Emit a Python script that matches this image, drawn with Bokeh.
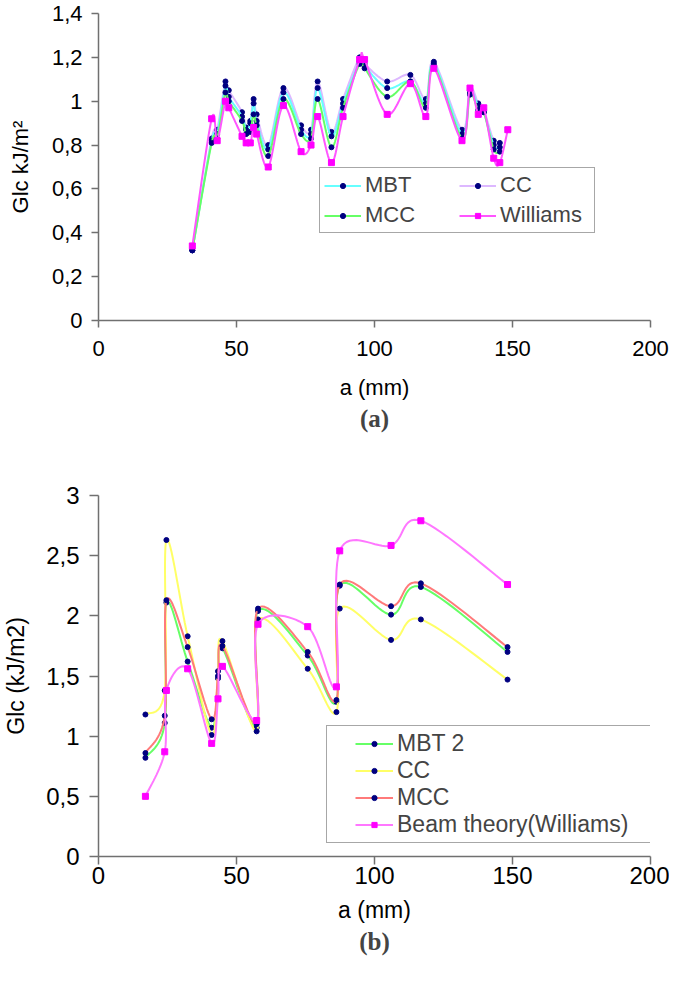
import numpy as np
from bokeh.plotting import figure
from bokeh.models import Range1d, FixedTicker, Legend, LegendItem, Title
from bokeh.layouts import column
from bokeh.embed import file_html
from bokeh.resources import INLINE

# ---------------- data: chart (a) ----------------
a_top = [34, 41, 43, 46, 47.2, 52, 53.5, 55, 56.2, 57.3, 61.5, 67, 73.4, 77, 79.4,
         84.4, 88.6, 94.6, 96.4, 104.6, 113, 118.6, 121.5, 131.7, 134.6, 137.6,
         139.6, 143.2, 145.4]
cc_top = [0.32, 0.83, 0.87, 1.09, 1.05, 0.95, 0.88, 0.91, 1.01, 0.94, 0.80, 1.06, 0.89,
          0.87, 1.09, 0.86, 1.01, 1.20, 1.17, 1.09, 1.12, 1.01, 1.18, 0.87, 1.06, 0.99,
          0.96, 0.82, 0.81]
mbt_top = [0.32, 0.82, 0.85, 1.07, 1.02, 0.93, 0.87, 0.90, 0.99, 0.91, 0.78, 1.04, 0.87,
           0.85, 1.06, 0.84, 0.99, 1.18, 1.16, 1.06, 1.09, 0.99, 1.17, 0.85, 1.04, 0.98,
           0.95, 0.80, 0.79]
mcc_top = [0.32, 0.81, 0.83, 1.04, 1.00, 0.91, 0.85, 0.86, 0.94, 0.89, 0.75, 1.01, 0.85,
           0.83, 1.01, 0.79, 0.97, 1.17, 1.15, 1.02, 1.09, 0.97, 1.16, 0.83, 1.03, 0.96,
           0.95, 0.78, 0.77]
a_top_williams = [34, 41, 43, 46, 47.2, 52, 53.5, 55, 56.2, 57.3, 61.5, 67, 73.4, 77,
                  79.4, 84.4, 88.6, 94.6, 96.4, 104.6, 113, 118.6, 121.5, 131.7, 134.6,
                  137.6, 139.6, 143.2, 145.4, 148.3]
williams_top = [0.34, 0.92, 0.82, 1.00, 0.97, 0.84, 0.81, 0.81, 0.88, 0.85, 0.70, 0.98,
                0.77, 0.80, 0.93, 0.72, 0.93, 1.19, 1.19, 0.94, 1.08, 0.93, 1.15, 0.82,
                1.06, 0.94, 0.97, 0.74, 0.72, 0.87]
x_ticks_top = [0, 50, 100, 150, 200]
y_ticks_top = [0, 0.2, 0.4, 0.6, 0.8, 1, 1.2, 1.4]
y_labels_top = ["0", "0,2", "0,4", "0,6", "0,8", "1", "1,2", "1,4"]

# ---------------- data: chart (b) ----------------
a_bot = [17, 24, 24.6, 32.3, 41, 43.3, 44.9, 57.3, 57.8, 75.8, 86.2, 87.4, 106, 116.8, 148.2]
mbt2_bot = [0.82, 1.11, 2.11, 1.62, 1.07, 1.48, 1.73, 1.07, 2.04, 1.67, 1.285, 2.25, 2.01, 2.24, 1.70]
cc_bot = [1.18, 1.38, 2.63, 1.83, 1.01, 1.54, 1.79, 1.04, 1.97, 1.56, 1.20, 2.06, 1.80, 1.97, 1.47]
mcc_bot = [0.86, 1.17, 2.13, 1.74, 1.14, 1.50, 1.75, 1.10, 2.06, 1.70, 1.30, 2.26, 2.08, 2.27, 1.74]
williams_bot = [0.50, 0.87, 1.38, 1.56, 0.94, 1.31, 1.58, 1.13, 1.93, 1.91, 1.41, 2.54, 2.585, 2.79, 2.26]
x_ticks_bot = [0, 50, 100, 150, 200]
y_ticks_bot = [0, 0.5, 1, 1.5, 2, 2.5, 3]
y_labels_bot = ["0", "0,5", "1", "1,5", "2", "2,5", "3"]

FONT = "Liberation Sans"
NAVY = "#000080"


def smooth(x, y, n=16):
    """Excel-like smoothed line (Catmull-Rom / Bezier) through the data points."""
    pts = np.column_stack([np.asarray(x, float), np.asarray(y, float)])
    out = [pts[0]]
    t = np.linspace(0, 1, n + 1)[1:, None]
    for i in range(len(pts) - 1):
        p0 = pts[i - 1] if i > 0 else pts[i]
        p1, p2 = pts[i], pts[i + 1]
        p3 = pts[i + 2] if i + 2 < len(pts) else pts[i + 1]
        c1 = p1 + (p2 - p0) / 6.0
        c2 = p2 - (p3 - p1) / 6.0
        seg = (1 - t) ** 3 * p1 + 3 * (1 - t) ** 2 * t * c1 + 3 * (1 - t) * t ** 2 * c2 + t ** 3 * p2
        out.extend(seg)
    arr = np.array(out)
    return arr[:, 0], arr[:, 1]


def style_axes(p, tick_out_x, tick_out_y, lab_size, title_size, xstand, ystand, xls, yls):
    for ax in (p.xaxis[0], p.yaxis[0]):
        ax.axis_line_color = "#707070"
        ax.axis_line_width = 1.5
        ax.major_tick_line_color = "#707070"
        ax.major_tick_line_width = 1.5
        ax.major_tick_in = 0
        ax.minor_tick_line_color = None
        ax.major_label_text_font = FONT
        ax.major_label_text_font_size = lab_size
        ax.major_label_text_color = "black"
        ax.axis_label_text_font = FONT
        ax.axis_label_text_font_size = title_size
        ax.axis_label_text_font_style = "normal"
        ax.axis_label_text_color = "black"
    p.xaxis[0].major_tick_out = tick_out_x
    p.yaxis[0].major_tick_out = tick_out_y
    p.xaxis[0].major_label_standoff = xstand
    p.yaxis[0].major_label_standoff = ystand
    p.xaxis[0].axis_label_standoff = xls
    p.yaxis[0].axis_label_standoff = yls


def add_series(p, x, y, color, marker, msize, mcolor, width=2):
    xs, ys = smooth(x, y)
    r_line = p.line(xs, ys, line_color=color, line_width=width)
    r_pts = p.scatter(x, y, marker=marker, size=msize, fill_color=mcolor, line_color=mcolor)
    return [r_line, r_pts]


# ---------------- figure (a) ----------------
pa = figure(width=669, height=480, x_range=Range1d(0, 200), y_range=Range1d(0, 1.4),
            output_backend="svg", toolbar_location=None,
            min_border_left=90, min_border_right=19, min_border_top=13, min_border_bottom=160,
            x_axis_label="a (mm)", y_axis_label="Glc kJ/m\u00b2")
pa.outline_line_color = None
pa.grid.visible = False
pa.xaxis[0].ticker = FixedTicker(ticks=x_ticks_top)
pa.yaxis[0].ticker = FixedTicker(ticks=y_ticks_top)
pa.yaxis[0].major_label_overrides = dict(zip(y_ticks_top, y_labels_top))
style_axes(pa, 7, 7, "22px", "22px", 13, 9, 16, 16)

r_cc = add_series(pa, a_top, cc_top, "#DDB8FF", "circle", 5, NAVY)
r_mbt = add_series(pa, a_top, mbt_top, "#66FFFF", "circle", 5, NAVY)
r_mcc = add_series(pa, a_top, mcc_top, "#66FF66", "circle", 5, NAVY)
r_wil = add_series(pa, a_top_williams, williams_top, "#FF55FF", "square", 6, "#FF00FF")

leg_a = Legend(items=[LegendItem(label="MBT", renderers=r_mbt),
                      LegendItem(label="CC", renderers=r_cc),
                      LegendItem(label="MCC", renderers=r_mcc),
                      LegendItem(label="Williams", renderers=r_wil)],
               location=(221, 87), orientation="horizontal", ncols=2,
               label_text_font=FONT, label_text_font_size="22px",
               glyph_width=37, glyph_height=13, label_height=24, label_width=90,
               label_standoff=4, spacing=4, padding=4, margin=0,
               border_line_color="#505050", border_line_width=1.5,
               background_fill_color="white", background_fill_alpha=1.0)
pa.add_layout(leg_a, "center")
pa.add_layout(Title(text="(a)", align="center", text_font="Liberation Serif",
                    text_font_style="bold", text_font_size="25px", standoff=0), "below")

# ---------------- figure (b) ----------------
pb = figure(width=669, height=494, x_range=Range1d(0, 200), y_range=Range1d(0, 3),
            output_backend="svg", toolbar_location=None,
            min_border_left=94, min_border_right=19, min_border_top=15, min_border_bottom=118,
            x_axis_label="a (mm)", y_axis_label="Glc (kJ/m2)")
pb.outline_line_color = None
pb.grid.visible = False
pb.xaxis[0].ticker = FixedTicker(ticks=x_ticks_bot)
pb.yaxis[0].ticker = FixedTicker(ticks=y_ticks_bot)
pb.yaxis[0].major_label_overrides = dict(zip(y_ticks_bot, y_labels_bot))
style_axes(pb, 8, 9, "24px", "23px", 2, 10, 10, 14)

r2_mbt = add_series(pb, a_bot, mbt2_bot, "#66FF66", "circle", 5, NAVY)
r2_cc = add_series(pb, a_bot, cc_bot, "#FFFF66", "circle", 5, NAVY)
r2_mcc = add_series(pb, a_bot, mcc_bot, "#FF7A7A", "circle", 5, NAVY)
r2_wil = add_series(pb, a_bot, williams_bot, "#FF77FF", "square", 6, "#FF00FF")

leg_b = Legend(items=[LegendItem(label="MBT 2", renderers=r2_mbt),
                      LegendItem(label="CC", renderers=r2_cc),
                      LegendItem(label="MCC", renderers=r2_mcc),
                      LegendItem(label="Beam theory(Williams)", renderers=r2_wil)],
               location=(228, 13), orientation="vertical",
               label_text_font=FONT, label_text_font_size="23px",
               glyph_width=38, glyph_height=13, label_height=24, label_width=272,
               label_standoff=4, spacing=0, padding=4, margin=0,
               title=" ", title_location="left", title_text_font_size="16px",
               title_standoff=6,
               border_line_color="#505050", border_line_width=1.5,
               background_fill_color="white", background_fill_alpha=1.0)
pb.add_layout(leg_b, "center")
pb.add_layout(Title(text="(b)", align="center", text_font="Liberation Serif",
                    text_font_style="bold", text_font_size="25px", standoff=0), "below")

layout = column(pa, pb, spacing=0)
open("out.html", "w").write(file_html(layout, INLINE))
